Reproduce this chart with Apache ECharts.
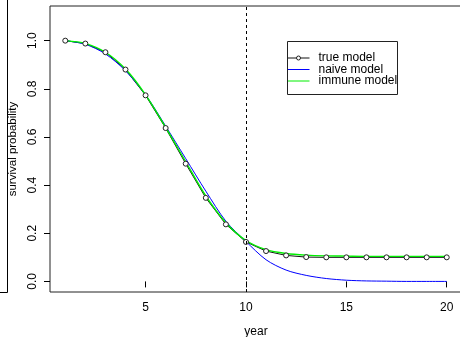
<!DOCTYPE html>
<html>
<head>
<meta charset="utf-8">
<script src="https://cdn.jsdelivr.net/npm/echarts@6/dist/echarts.min.js"></script>
<style>
  html, body { margin: 0; padding: 0; background: #fff; }
  #chart { width: 460px; height: 337px; }
</style>
</head>
<body>
<div id="chart"></div>
<script>
const years = [1, 2, 3, 4, 5, 6, 7, 8, 9, 10, 11, 12, 13, 14, 15, 16, 17, 18, 19, 20];
const trueModel = [1.0, 0.988, 0.952, 0.88, 0.773, 0.637, 0.489, 0.347, 0.237, 0.164,
  0.126, 0.108, 0.101, 0.1, 0.1, 0.1, 0.1, 0.1, 0.1, 0.1];
const naiveModel = [1.0, 0.985, 0.945, 0.875, 0.775, 0.645, 0.51, 0.375, 0.25, 0.166,
  0.09, 0.047, 0.025, 0.012, 0.005, 0.002, 0.001, 0, 0, 0];
const immuneModel = [1.0, 0.988, 0.952, 0.882, 0.775, 0.64, 0.497, 0.355, 0.244, 0.17,
  0.132, 0.116, 0.109, 0.106, 0.105, 0.104, 0.104, 0.104, 0.104, 0.104];
const xTicks = [5, 10, 15, 20];
const yTicks = [0, 0.2, 0.4, 0.6, 0.8, 1.0];
const cutYear = 10;

const font = '"Liberation Sans", Arial, sans-serif';
const pairs = vals => years.map((y, i) => [y, vals[i]]);

const chart = echarts.init(document.getElementById('chart'));
chart.setOption({
  animation: false,
  backgroundColor: '#fff',
  grid: {
    left: 50, top: 6, right: -2, bottom: 45,
    outerBoundsMode: 'none',
    show: true, borderColor: '#222', borderWidth: 1, backgroundColor: 'transparent'
  },
  xAxis: {
    type: 'value', min: 0.24, max: 20.76,
    name: 'year', nameLocation: 'middle', nameGap: 34,
    nameTextStyle: { color: '#000', fontSize: 12, fontFamily: font },
    axisLine: { show: false },
    axisTick: { show: true, customValues: xTicks, length: 6, lineStyle: { color: '#000' } },
    axisLabel: { customValues: xTicks, color: '#000', fontSize: 12, fontFamily: font, margin: 10 },
    splitLine: { show: false }
  },
  yAxis: {
    type: 'value', min: -0.044, max: 1.144,
    name: 'survival probability', nameLocation: 'middle', nameGap: 31, nameRotate: 90,
    nameTextStyle: { color: '#000', fontSize: 11.5, fontFamily: font },
    axisLine: { show: false },
    axisTick: { show: true, customValues: yTicks, length: 6, lineStyle: { color: '#000' } },
    axisLabel: {
      customValues: yTicks, rotate: 90, color: '#000', fontSize: 12, fontFamily: font, margin: 11,
      formatter: v => v.toFixed(1)
    },
    splitLine: { show: false }
  },
  legend: {
    orient: 'vertical', left: 287, top: 52, padding: 0, itemGap: -0.5,
    itemWidth: 22, itemHeight: 5,
    lineStyle: { width: 1 },
    itemStyle: { color: '#fff', borderColor: '#222', borderWidth: 1 },
    textStyle: { color: '#000', fontSize: 12, fontFamily: font, padding: [0, 0, 0, 4] },
    data: [
      'true model',
      { name: 'naive model', itemStyle: { opacity: 0 } },
      { name: 'immune model', itemStyle: { opacity: 0 } }
    ]
  },
  graphic: [
    // legend box (text runs past it, as in the original)
    { type: 'rect', shape: { x: 287.5, y: 41.5, width: 110, height: 53 },
      style: { fill: 'none', stroke: '#222', lineWidth: 1 }, z: 100 },
    // edge of the neighbouring panel on the left
    { type: 'polyline', shape: { points: [[7.5, 0], [7.5, 292.5], [0, 292.5]] },
      style: { fill: 'none', stroke: '#000', lineWidth: 1 } }
  ],
  series: [
    {
      name: 'true model', type: 'line', data: pairs(trueModel),
      symbol: 'circle', symbolSize: 5, showAllSymbol: true,
      lineStyle: { color: '#111', width: 1 },
      itemStyle: { color: '#fff', borderColor: '#222', borderWidth: 1 },
      markLine: {
        silent: true, symbol: 'none', label: { show: false },
        lineStyle: { color: '#000', width: 1, type: [3, 3] },
        data: [{ xAxis: cutYear }]
      }
    },
    {
      name: 'naive model', type: 'line', data: pairs(naiveModel),
      symbol: 'none', smooth: 0.3,
      lineStyle: { color: '#0000ff', width: 1 }, itemStyle: { color: '#0000ff' }
    },
    {
      name: 'immune model', type: 'line', data: pairs(immuneModel),
      symbol: 'none', smooth: 0.3,
      lineStyle: { color: '#00ee00', width: 1.4 }, itemStyle: { color: '#00ee00' }
    }
  ]
});
</script>
</body>
</html>
